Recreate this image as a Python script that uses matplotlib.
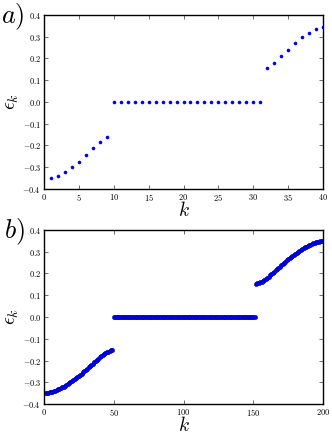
import numpy as np
import matplotlib
matplotlib.use("Agg")
import matplotlib.pyplot as plt
from matplotlib.ticker import FuncFormatter, MultipleLocator

# === Données ===
# panneau a) : N = 40
k_a = list(range(1, 41))
eps_a = [-0.350, -0.339, -0.322, -0.300, -0.276, -0.244, -0.213, -0.184, -0.160,
         0.0, 0.0, 0.0, 0.0, 0.0, 0.0, 0.0, 0.0, 0.0, 0.0, 0.0,
         0.0, 0.0, 0.0, 0.0, 0.0, 0.0, 0.0, 0.0, 0.0, 0.0, 0.0,
         0.157, 0.181, 0.210, 0.241, 0.271, 0.298, 0.319, 0.336, 0.346]

# panneau b) : N = 200
k_b = list(range(1, 201))
eps_b_low = [-0.350, -0.349, -0.348, -0.347, -0.345, -0.343, -0.341, -0.339, -0.336,
             -0.333, -0.330, -0.327, -0.324, -0.320, -0.317, -0.313, -0.309, -0.304,
             -0.300, -0.295, -0.291, -0.287, -0.282, -0.277, -0.272, -0.266, -0.261,
             -0.255, -0.250, -0.244, -0.238, -0.232, -0.226, -0.220, -0.214, -0.209,
             -0.203, -0.197, -0.192, -0.186, -0.181, -0.176, -0.171, -0.167, -0.163,
             -0.159, -0.156, -0.154, -0.152]
eps_b_mid = [0.0] * 102
eps_b_high = [0.152, 0.154, 0.156, 0.159, 0.163, 0.167, 0.171, 0.176, 0.181,
              0.186, 0.192, 0.197, 0.203, 0.209, 0.214, 0.220, 0.226, 0.232,
              0.238, 0.244, 0.250, 0.255, 0.261, 0.266, 0.272, 0.277, 0.282,
              0.287, 0.291, 0.295, 0.300, 0.304, 0.309, 0.313, 0.317, 0.320,
              0.324, 0.327, 0.330, 0.333, 0.336, 0.339, 0.341, 0.343, 0.345,
              0.347, 0.348, 0.349, 0.350]
eps_b = eps_b_low + eps_b_mid + eps_b_high

plt.rcParams["mathtext.fontset"] = "cm"
plt.rcParams["font.family"] = "serif"

fig = plt.figure(figsize=(3.32, 4.34), dpi=100)
ax_a = fig.add_axes([0.1325, 0.5645, 0.8405, 0.401])
ax_b = fig.add_axes([0.1325, 0.0691, 0.8405, 0.401])

fmt_y = FuncFormatter(lambda v, p: r"$%.1f$" % (0.0 if abs(v) < 1e-9 else v))
fmt_x = FuncFormatter(lambda v, p: r"$%d$" % round(v))

def style(ax, xmax, xstep, letter):
    ax.set_xlim(0, xmax)
    ax.set_ylim(-0.4, 0.4)
    ax.xaxis.set_major_locator(MultipleLocator(xstep))
    ax.yaxis.set_major_locator(MultipleLocator(0.1))
    ax.xaxis.set_major_formatter(fmt_x)
    ax.yaxis.set_major_formatter(fmt_y)
    ax.tick_params(direction="in", top=True, right=True, length=3, width=0.6,
                   labelsize=6, pad=2, color="#555555")
    for s in ax.spines.values():
        s.set_linewidth(1.0)
    ax.set_xlabel(r"$k$", fontsize=14, labelpad=-1)
    ax.set_ylabel(r"$\epsilon_k$", fontsize=14, labelpad=1)
    ax.text(-0.07, 1.075, r"$%s)$" % letter, transform=ax.transAxes,
            fontsize=19, ha="right", va="top")

ax_a.plot(k_a, eps_a, "o", color="blue", markersize=2.6, markeredgewidth=0)
style(ax_a, 40, 5, "a")

ax_b.plot(k_b, eps_b, "o", color="blue", markersize=3.0,
          markeredgewidth=0.4, markeredgecolor="#0000aa")
style(ax_b, 200, 50, "b")

fig.savefig("out.png", dpi=100)
